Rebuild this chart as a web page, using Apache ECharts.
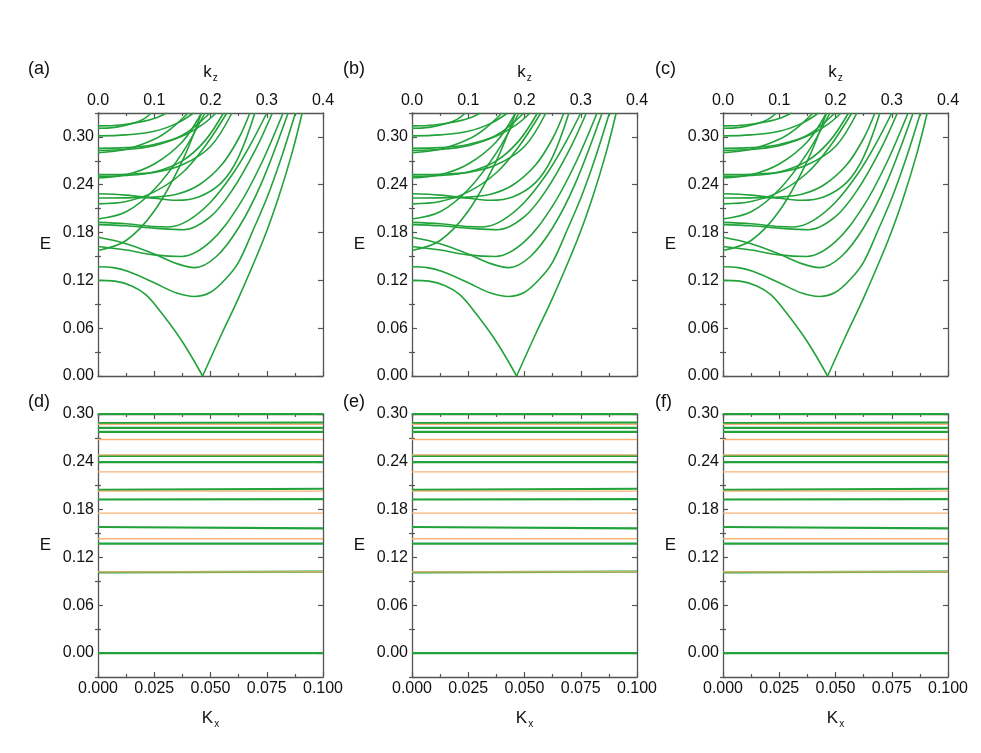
<!DOCTYPE html>
<html>
<head>
<meta charset="utf-8">
<script src="https://cdn.jsdelivr.net/npm/echarts@6/dist/echarts.min.js"></script>
<style>
  html, body { margin: 0; background: #fff; }
  #chart { width: 981px; height: 753px; }
</style>
</head>
<body>
<div id="chart"></div>
<script>
// bands E(kz) for the top panels as [kz, E]
const bandV1 = [[0,0.120],[0.03,0.119],[0.06,0.113],[0.085,0.102],[0.113,0.079],[0.15,0.043],[0.186,0]];
const bandV2 = [[0.186,0],[0.22,0.053],[0.25,0.098],[0.294,0.171],[0.32,0.222],[0.345,0.28],[0.363,0.33]];
const band137 = [[0,0.137],[0.027,0.136],[0.054,0.131],[0.1,0.117],[0.14,0.104],[0.172,0.0997],[0.2,0.105],[0.226,0.121],[0.25,0.143],[0.276,0.1835],[0.3,0.223],[0.325,0.272],[0.351,0.33]];
const band157 = [[0,0.1575],[0.05,0.17],[0.1,0.207],[0.15,0.27],[0.184,0.33]];
const band162 = [[0,0.1625],[0.05,0.158],[0.1,0.152],[0.149,0.150],[0.2,0.1685],[0.25,0.2135],[0.29,0.266],[0.329,0.33]];
const band174 = [[0,0.174],[0.05,0.166],[0.1,0.153],[0.14,0.141],[0.172,0.136],[0.21,0.1496],[0.25,0.186],[0.29,0.241],[0.338,0.33]];
const band190 = [[0,0.190],[0.05,0.1885],[0.1,0.1855],[0.152,0.1835],[0.2,0.200],[0.24,0.2346],[0.28,0.284],[0.31,0.33]];
const band193 = [[0,0.1927],[0.05,0.191],[0.1,0.1875],[0.125,0.187],[0.16,0.195],[0.2,0.218],[0.24,0.254],[0.27,0.289],[0.3,0.33]];
const band197 = [[0,0.197],[0.05,0.206],[0.1,0.234],[0.15,0.28],[0.19,0.33]];
const band216 = [[0,0.216],[0.05,0.219],[0.1,0.231],[0.15,0.255],[0.19,0.288],[0.229,0.33]];
const band223 = [[0,0.2233],[0.05,0.2235],[0.1,0.2245],[0.14,0.228],[0.18,0.24],[0.22,0.265],[0.25,0.298],[0.27,0.33]];
const band229 = [[0,0.2287],[0.05,0.227],[0.1,0.223],[0.14,0.2205],[0.18,0.225],[0.22,0.243],[0.25,0.275],[0.279,0.33]];
const band248 = [[0,0.2485],[0.05,0.2525],[0.1,0.266],[0.15,0.294],[0.184,0.33]];
const band251 = [[0,0.2506],[0.05,0.2515],[0.1,0.256],[0.15,0.27],[0.19,0.295],[0.223,0.33]];
const band253 = [[0,0.2527],[0.05,0.2532],[0.1,0.2555],[0.15,0.265],[0.2,0.288],[0.238,0.33]];
const band280 = [[0,0.2803],[0.05,0.2845],[0.1,0.297],[0.13,0.3105],[0.16,0.33]];
const band283 = [[0,0.2832],[0.05,0.2842],[0.1,0.289],[0.15,0.301],[0.185,0.315],[0.21,0.33]];
const band286 = [[0,0.2857],[0.05,0.2865],[0.1,0.2905],[0.15,0.302],[0.199,0.33]];
const band301 = [[0,0.3013],[0.05,0.3025],[0.1,0.307],[0.14,0.317],[0.17,0.33]];
const band311 = [[0,0.3108],[0.03,0.312],[0.06,0.3165],[0.08,0.322],[0.095,0.33]];
const band314 = [[0,0.3138],[0.04,0.315],[0.08,0.3195],[0.105,0.3245],[0.122,0.33]];

const topBands = [bandV1, bandV2, band137, band157, band162, band174, band190, band193, band197,
  band216, band223, band229, band248, band251, band253, band280, band283, band286, band301, band311, band314];

// flat levels for the bottom panels (E at Kx = 0 and Kx = 0.1)
const kxEnds = [0, 0.1];
const greenStart = [0.300, 0.2887, 0.2825, 0.2775, 0.2475, 0.2395, 0.2049, 0.1927, 0.1582, 0.1373, 0.1013, 0.000];
const greenEnd   = [0.300, 0.2893, 0.2825, 0.2775, 0.2475, 0.2395, 0.2062, 0.1932, 0.1565, 0.1373, 0.1022, 0.000];
const orangeLevels = [0.2870, 0.2680, 0.2488, 0.2274, 0.2032, 0.1756, 0.1435, 0.1018];

// tick values
const eMajor = [0, 0.06, 0.12, 0.18, 0.24, 0.30];
const eMinorTop = [0.03, 0.09, 0.15, 0.21, 0.27, 0.33];
const eMinorBottom = [-0.03, 0.03, 0.09, 0.15, 0.21, 0.27];

const panelLabels = ['(a)', '(b)', '(c)', '(d)', '(e)', '(f)'];

const FONT = 'Liberation Sans';
const AX = '#555';
const GREEN = '#22A23A';
const ORANGE = '#F6B273';

const lefts = [98, 412, 723];
const grids = [];
lefts.forEach(l => grids.push({left: l, top: 113, width: 225, height: 263}));
lefts.forEach(l => grids.push({left: l, top: 414, width: 225, height: 263}));

const xAxes = [], yAxes = [], series = [];
const axLine = {show: true, onZero: false, lineStyle: {color: AX, width: 1.3}};
const tickStyle = {color: AX, width: 1.2};
const labelStyle = {fontSize: 16, color: '#111', fontFamily: FONT};

function subName(main, sub) {
  return {
    name: '{m|' + main + '}{s|' + sub + '}',
    nameTextStyle: {
      rich: {
        m: {fontSize: 17, fontFamily: FONT, color: '#111'},
        s: {fontSize: 10, fontFamily: FONT, color: '#111', padding: [12, 0, 0, 1]}
      }
    }
  };
}

function addX(gi, pos, min, max, step, dec, nm, gap) {
  const ax = {
    gridIndex: gi, type: 'value', position: pos, min: min, max: max, interval: step,
    axisLine: axLine,
    axisTick: {show: true, inside: true, length: 5, lineStyle: tickStyle},
    minorTick: {show: true, splitNumber: 2, length: 3, lineStyle: tickStyle},
    splitLine: {show: false},
    axisLabel: Object.assign({show: !!nm, margin: 4,
      formatter: v => v.toFixed(dec)}, labelStyle)
  };
  if (nm) Object.assign(ax, nm, {nameLocation: 'middle', nameGap: gap});
  xAxes.push(ax);
  return xAxes.length - 1;
}

function addY(gi, pos, min, max, minor, labeled) {
  const base = {gridIndex: gi, type: 'value', position: pos, min: min, max: max, splitLine: {show: false}};
  const major = Object.assign({}, base, {
    axisLine: axLine,
    axisTick: {show: true, inside: true, length: 5, customValues: eMajor, lineStyle: tickStyle},
    axisLabel: Object.assign({show: labeled, customValues: eMajor, margin: 4,
      formatter: v => v.toFixed(2)}, labelStyle)
  });
  if (labeled) Object.assign(major, {name: 'E', nameLocation: 'middle', nameRotate: 0, nameGap: 47,
    nameTextStyle: {fontSize: 17, fontFamily: FONT, color: '#111'}});
  yAxes.push(major);
  const idx = yAxes.length - 1;
  yAxes.push(Object.assign({}, base, {
    axisLine: {show: false},
    axisTick: {show: true, inside: true, length: 3, customValues: minor, lineStyle: tickStyle},
    axisLabel: {show: false}
  }));
  return idx;
}

function addLine(data, xi, yi, color, width, smooth, z) {
  series.push({
    type: 'line', xAxisIndex: xi, yAxisIndex: yi, data: data,
    showSymbol: false, smooth: smooth, silent: true, animation: false, z: z,
    lineStyle: {color: color, width: width}
  });
}

// top row: E vs kz
for (let p = 0; p < 3; p++) {
  const xi = addX(p, 'top', 0, 0.4, 0.1, 1, subName('k', 'z'), 30);
  addX(p, 'bottom', 0, 0.4, 0.1, 1, null, 0);
  const yi = addY(p, 'left', 0, 0.33, eMinorTop, true);
  addY(p, 'right', 0, 0.33, eMinorTop, false);
  topBands.forEach(b => addLine(b, xi, yi, GREEN, 1.6, 0.35, 2));
}

// bottom row: E vs Kx
for (let p = 0; p < 3; p++) {
  const gi = p + 3;
  const xi = addX(gi, 'bottom', 0, 0.1, 0.025, 3, subName('K', 'x'), 30);
  addX(gi, 'top', 0, 0.1, 0.025, 3, null, 0);
  const yi = addY(gi, 'left', -0.03, 0.30, eMinorBottom, true);
  addY(gi, 'right', -0.03, 0.30, eMinorBottom, false);
  greenStart.forEach((e, i) => addLine([[kxEnds[0], e], [kxEnds[1], greenEnd[i]]], xi, yi, GREEN, 2.2, false, 2));
  orangeLevels.forEach(e => addLine([[kxEnds[0], e], [kxEnds[1], e]], xi, yi, ORANGE, 1.3, false, 3));
}

const labelPos = [[28, 60], [343, 60], [655, 60], [28, 393], [343, 393], [655, 393]];
const graphic = panelLabels.map((t, i) => ({
  type: 'text', left: labelPos[i][0], top: labelPos[i][1],
  style: {text: t, font: '18px ' + FONT, fill: '#111'}
}));

const chart = echarts.init(document.getElementById('chart'), null, {renderer: 'canvas'});
chart.setOption({
  backgroundColor: '#fff',
  animation: false,
  grid: grids,
  xAxis: xAxes,
  yAxis: yAxes,
  series: series,
  graphic: graphic
});
</script>
</body>
</html>
